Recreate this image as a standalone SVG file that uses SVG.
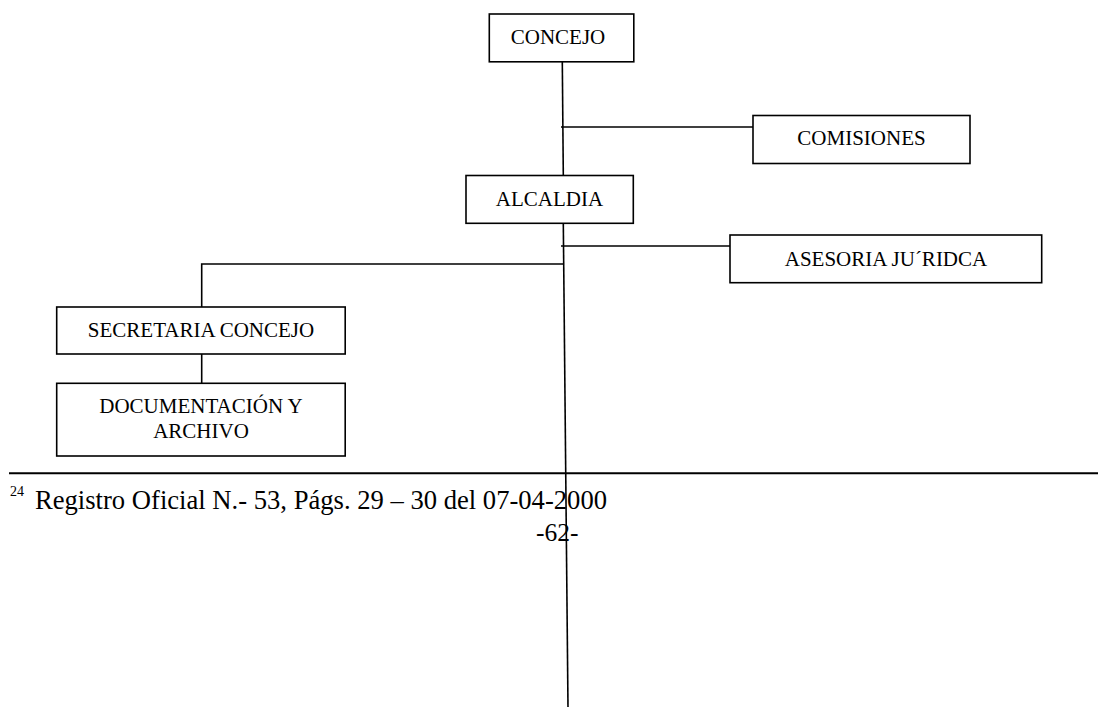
<svg xmlns="http://www.w3.org/2000/svg" width="1098" height="707" viewBox="0 0 1098 707" font-family="'Liberation Serif', 'Times New Roman', Times, serif">
<style>
.box{fill:#fff;stroke:#000;stroke-width:1.6}
.lbl{font-size:21px;fill:#000;text-anchor:middle}
.ln{fill:none;stroke:#000;stroke-width:1.6}
.foot{fill:#000}
</style>
<rect width="1098" height="707" fill="#fff"/>
<g id="connectors">
<line class="ln" x1="562.3" y1="62" x2="563.3" y2="175"/>
<line class="ln" x1="561" y1="127" x2="753" y2="127"/>
<line class="ln" x1="563.3" y1="223" x2="568" y2="707"/>
<line class="ln" x1="561" y1="246" x2="730" y2="246"/>
<polyline class="ln" points="564,264 201.7,264 201.7,307"/>
<line class="ln" x1="201.7" y1="354" x2="201.7" y2="383"/>
</g>
<g id="concejo">
<rect class="box" x="489.3" y="14" width="144.5" height="47.8"/>
<text class="lbl" x="558" y="44">CONCEJO</text>
</g>
<g id="comisiones">
<rect class="box" x="753" y="115.5" width="217" height="48"/>
<text class="lbl" x="861.5" y="145">COMISIONES</text>
</g>
<g id="alcaldia">
<rect class="box" x="466" y="175.5" width="167.3" height="47.8"/>
<text class="lbl" x="549.5" y="205.5">ALCALDIA</text>
</g>
<g id="asesoria">
<rect class="box" x="730" y="235" width="311.7" height="47.7"/>
<text class="lbl" x="886" y="266">ASESORIA JU´RIDCA</text>
</g>
<g id="secretaria">
<rect class="box" x="56.7" y="307" width="288.5" height="47"/>
<text class="lbl" x="201" y="337">SECRETARIA CONCEJO</text>
</g>
<g id="documentacion">
<rect class="box" x="56.7" y="383.3" width="288.5" height="72.7"/>
<text class="lbl" x="201" y="413.3">DOCUMENTACIÓN Y</text>
<text class="lbl" x="201" y="437.5">ARCHIVO</text>
</g>
<g id="footnote">
<line x1="9" y1="473.3" x2="1098" y2="473.3" stroke="#000" stroke-width="2"/>
<text class="foot" x="10" y="496" font-size="14">24</text>
<text class="foot" x="35" y="509" font-size="26.6" textLength="572" lengthAdjust="spacingAndGlyphs">Registro Oficial N.- 53, Págs. 29 – 30 del 07-04-2000</text>
<text class="foot" x="536" y="540.5" font-size="25.5">-62-</text>
</g>
</svg>
